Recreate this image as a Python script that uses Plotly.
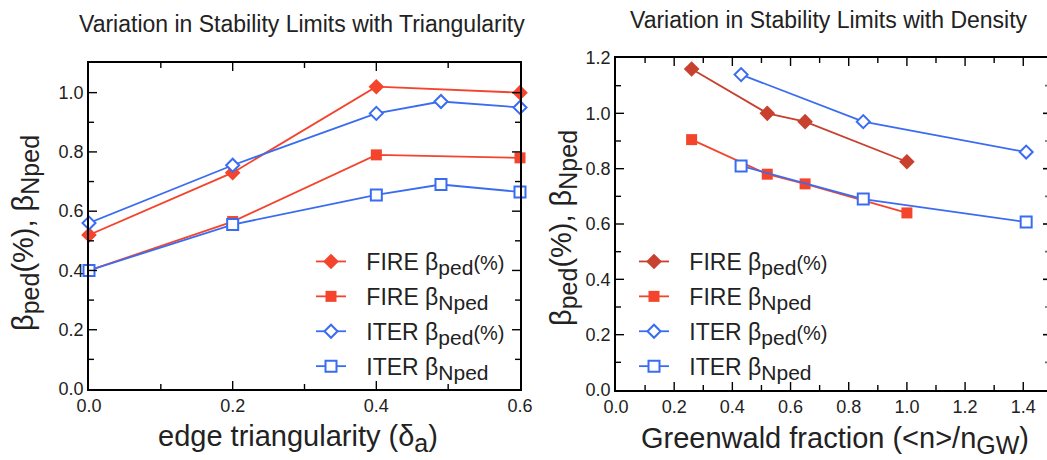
import plotly.graph_objects as go

# ---- data (left panel: edge triangularity) ----
tri_fire_x = [0.0, 0.2, 0.4, 0.6]
tri_fire_bped = [0.52, 0.73, 1.02, 1.00]
tri_fire_bnped = [0.40, 0.565, 0.79, 0.78]
tri_iter_x = [0.0, 0.2, 0.4, 0.49, 0.6]
tri_iter_bped = [0.56, 0.755, 0.93, 0.97, 0.95]
tri_iter_bnped = [0.40, 0.555, 0.655, 0.69, 0.665]

# ---- data (right panel: Greenwald fraction) ----
gw_fire_x = [0.26, 0.52, 0.65, 1.0]
gw_fire_bped = [1.16, 1.00, 0.97, 0.825]
gw_fire_bnped = [0.905, 0.78, 0.745, 0.64]
gw_iter_x = [0.43, 0.85, 1.41]
gw_iter_bped = [1.14, 0.97, 0.86]
gw_iter_bnped = [0.81, 0.69, 0.607]

SUBL = "<sub><span style='font-size:21px'>%s</span></sub>"
PCT = "<span style='font-size:20px'>(%)</span>"
LEAD = "\u2002\u2006"
names = [LEAD + "FIRE β" + SUBL % "ped" + PCT,
         LEAD + "FIRE β" + SUBL % "Nped",
         LEAD + "ITER β" + SUBL % "ped" + PCT,
         LEAD + "ITER β" + SUBL % "Nped"]

RED = "#f4442c"
DARKRED = "#c8402e"
BLUE = "#3a6cf2"
FONT = "Liberation Sans, Arial, sans-serif"
W, H = 1047, 460

# axis ranges
LX_MAX, LY_MAX = 0.6, 1.1
RX_MAX, RY_MAX = (W - 616) / 290.9, 1.2

fig = go.Figure()

def add(x, y, name, color, symbol, size, fill, xa, ya, leg, grp):
    fig.add_trace(go.Scatter(
        x=x, y=y, name=name, mode="lines+markers", xaxis=xa, yaxis=ya,
        legend=leg, legendgroup=grp, cliponaxis=False,
        line=dict(color=color, width=1.8),
        marker=dict(symbol=symbol, size=size, color=fill,
                    line=dict(color=color, width=2 if fill == "white" else 0)),
    ))

add(tri_fire_x, tri_fire_bped, names[0], RED, "diamond", 12, RED, "x", "y", "legend", "a1")
add(tri_fire_x, tri_fire_bnped, names[1], RED, "square", 11, RED, "x", "y", "legend", "a2")
add(tri_iter_x, tri_iter_bped, names[2], BLUE, "diamond", 10, "white", "x", "y", "legend", "a3")
add(tri_iter_x, tri_iter_bnped, names[3], BLUE, "square", 11, "white", "x", "y", "legend", "a4")

add(gw_fire_x, gw_fire_bped, names[0], DARKRED, "diamond", 12, DARKRED, "x2", "y2", "legend2", "b1")
add(gw_fire_x, gw_fire_bnped, names[1], RED, "square", 11, RED, "x2", "y2", "legend2", "b2")
add(gw_iter_x, gw_iter_bped, names[2], BLUE, "diamond", 10, "white", "x2", "y2", "legend2", "b3")
add(gw_iter_x, gw_iter_bnped, names[3], BLUE, "square", 11, "white", "x2", "y2", "legend2", "b4")

def px(v):
    return v / W

def py(v):
    return 1 - v / H

axis_common = dict(
    showgrid=False, zeroline=False, showline=True, linecolor="black",
    linewidth=1.6, ticks="",
    tickfont=dict(family=FONT, size=18, color="#222"), automargin=False,
    tickformat=".1f", tickmode="linear", tick0=0, dtick=0.2,
)

fig.update_layout(
    template="none",
    width=W, height=H, margin=dict(l=0, r=0, t=0, b=0, pad=0),
    paper_bgcolor="white", plot_bgcolor="white",
    font=dict(family=FONT, color="#222"),
    xaxis=dict(domain=[px(89), px(520)], range=[0, LX_MAX], mirror=True,
               anchor="y", **axis_common),
    yaxis=dict(domain=[py(389), py(63)], range=[0, LY_MAX], mirror=True,
               anchor="x", **axis_common),
    xaxis2=dict(domain=[px(616), 1.0], range=[0, RX_MAX],
                mirror=True, anchor="y2", **axis_common),
    yaxis2=dict(domain=[py(390), py(58)], range=[0, RY_MAX], mirror=False,
                anchor="x2", **axis_common),
    legend=dict(x=px(311), y=py(240), xanchor="left", yanchor="top",
                bgcolor="rgba(0,0,0,0)", tracegroupgap=2, borderwidth=0,
                font=dict(family=FONT, size=23, color="#222"),
                itemwidth=30),
    legend2=dict(x=px(634), y=py(240), xanchor="left", yanchor="top",
                 bgcolor="rgba(0,0,0,0)", tracegroupgap=2, borderwidth=0,
                 font=dict(family=FONT, size=23, color="#222"),
                 itemwidth=30),
    showlegend=True,
)

# ---- inside tick marks (major every 0.2, minor every 0.1), in axis units ----
MAJ, MIN = 8, 5

def seg(xa, ya, x0, y0, x1, y1, color="black", width=1.4):
    fig.add_shape(type="line", xref=xa, yref=ya, x0=x0, y0=y0, x1=x1, y1=y1,
                  line=dict(color=color, width=width), layer="above")

def add_ticks(xa, ya, xmax, ymax, sx, sy, nx, ny, full_right=True):
    for k in range(1, nx + 1):
        v = round(k * 0.1, 10)
        if v >= xmax - 1e-9:
            continue
        L = MAJ if k % 2 == 0 else MIN
        seg(xa, ya, v, 0, v, L / sy)
        seg(xa, ya, v, ymax, v, ymax - L / sy)
    for k in range(1, ny + 1):
        v = round(k * 0.1, 10)
        if v >= ymax - 1e-9:
            continue
        L = MAJ if k % 2 == 0 else MIN
        seg(xa, ya, 0, v, L / sx, v)
        if full_right:
            seg(xa, ya, xmax, v, xmax - L / sx, v)
        else:
            Lr = 4 if k % 2 == 0 else 2
            seg(xa, ya, xmax, v, xmax - Lr / sx, v,
                color="black" if k % 2 == 0 else "#666", width=1.6)

add_ticks("x", "y", LX_MAX, LY_MAX, 431 / LX_MAX, 326 / LY_MAX, 6, 11)
add_ticks("x2", "y2", RX_MAX, RY_MAX, 431 / RX_MAX, 332 / RY_MAX, 14, 12,
          full_right=False)

ann = dict(showarrow=False, xref="paper", yref="paper")
TF = dict(family=FONT, size=23, color="#222")
AF = dict(family=FONT, size=29, color="#222")
SUBA = "<sub><span style='font-size:25px'>%s</span></sub>"
ytitle = "β" + SUBA % "ped" + "(%), β" + SUBA % "Nped"

fig.add_annotation(text="Variation in Stability Limits with Triangularity",
                   x=px(302), y=py(24), xanchor="center", yanchor="middle",
                   font=TF, **ann)
fig.add_annotation(text="Variation in Stability Limits with Density",
                   x=px(829), y=py(20), xanchor="center", yanchor="middle",
                   font=TF, **ann)
fig.add_annotation(text="edge triangularity (δ" + SUBA % "a" + ")",
                   x=px(298), y=py(438), xanchor="center", yanchor="middle",
                   font=AF, **ann)
fig.add_annotation(text="Greenwald fraction (&lt;n&gt;/n" + SUBA % "GW" + ")",
                   x=px(835), y=py(440), xanchor="center", yanchor="middle",
                   font=AF, **ann)
fig.add_annotation(text=ytitle, textangle=-90,
                   x=px(26), y=py(233), xanchor="center", yanchor="middle",
                   font=AF, **ann)
fig.add_annotation(text=ytitle, textangle=-90,
                   x=px(563), y=py(228), xanchor="center", yanchor="middle",
                   font=AF, **ann)

fig.write_html("out.html")
